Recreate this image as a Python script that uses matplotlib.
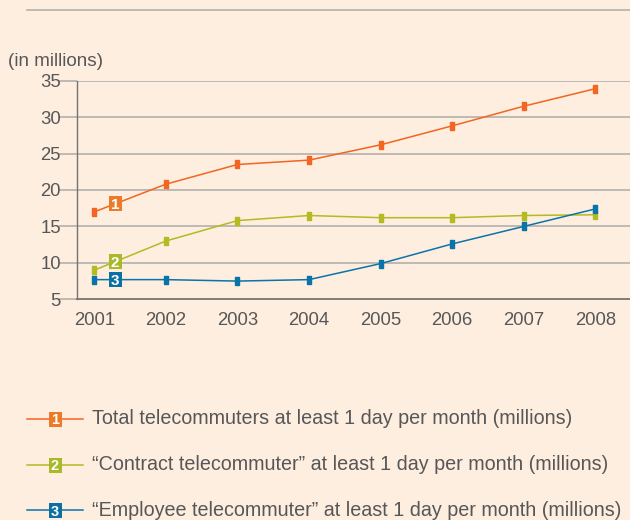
import matplotlib
matplotlib.use("Agg")
import matplotlib.pyplot as plt
from matplotlib.lines import Line2D
from matplotlib.patches import Rectangle

years = [2001, 2002, 2003, 2004, 2005, 2006, 2007, 2008]
total = [17.0, 20.8, 23.5, 24.1, 26.2, 28.8, 31.5, 33.9]
contract = [9.0, 13.0, 15.8, 16.5, 16.2, 16.2, 16.5, 16.6]
employee = [7.7, 7.7, 7.5, 7.7, 9.9, 12.6, 15.0, 17.4]
labels = ["Total telecommuters at least 1 day per month (millions)",
          "\u201cContract telecommuter\u201d at least 1 day per month (millions)",
          "\u201cEmployee telecommuter\u201d at least 1 day per month (millions)"]
yticks = [5, 10, 15, 20, 25, 30, 35]

BG = "#FDEEE0"
TXT = "#575757"
GRID = "#B4B0AC"
AX = "#77726E"
line_cols = ["#F26522", "#B2BB22", "#0A74A8"]
box_cols = ["#EC7A28", "#A9B92A", "#0A6FA3"]

plt.rcParams['font.family'] = ['Liberation Sans', 'DejaVu Sans']
FS = 13.3
W, H = 630, 520

fig = plt.figure(figsize=(6.3, 5.2), dpi=100, facecolor=BG)
ax = fig.add_axes([77/W, 1-299.3/H, 1-77/W, (299.3-80.7)/H])
ax.set_facecolor(BG)

marker = [(-2, -3.5), (2, -3.5), (2, 3.5), (-2, 3.5), (-2, -3.5)]
series = [total, contract, employee]
for s, c in zip(series, line_cols):
    ax.plot(years, s, color=c, lw=1.1, marker=marker, ms=6, mfc=c, mec=c, zorder=3)

def numbox(xpix, ypix, n, col, fs):
    bw, bh = 13, 15
    fig.add_artist(Rectangle(((xpix-bw/2)/W, 1-(ypix+bh/2)/H), bw/W, bh/H,
                             transform=fig.transFigure, fc=col, ec="none", zorder=5))
    fig.text(xpix/W, 1-ypix/H, str(n), color="white", fontsize=fs, fontweight="bold",
             ha="center", va="center_baseline", zorder=6)

ax.set_xlim(2000.758, 2008.485)
ax.set_ylim(5, 35)
ax.set_yticks(yticks)
ax.set_xticks(years)
ax.set_xticklabels([str(y) for y in years])
for y in yticks[1:]:
    ax.axhline(y, color=GRID, lw=1.2, zorder=1)
ax.spines['top'].set_visible(False)
ax.spines['right'].set_visible(False)
ax.spines['left'].set_color(AX)
ax.spines['bottom'].set_color(AX)
ax.spines['left'].set_linewidth(1.0)
ax.spines['bottom'].set_linewidth(1.3)
ax.tick_params(axis='y', length=13, color=GRID, width=1.2, pad=-1.5, labelsize=FS, labelcolor=TXT)
ax.tick_params(axis='x', length=0, pad=9, labelsize=FS, labelcolor=TXT)

# numbered boxes on lines (placed along the first segment of each line)
fig.canvas.draw()
for i, (s, bc) in enumerate(zip(series, box_cols)):
    xb = 2001.29
    yb = s[0] + (s[1]-s[0])*0.29
    px, py = ax.transData.transform((xb, yb))
    numbox(px, H-py, i+1, bc, 11)

fig.text(8/W, 1-62/H, "(in millions)", color=TXT, fontsize=FS+0.3, ha="left", va="center")

# top rule
fig.add_artist(Line2D([27/W, 1], [1-10/H, 1-10/H], color=GRID, lw=1.2))

# legend
rows = [419, 465, 510]
for i, (yr, lc, bc, lab) in enumerate(zip(rows, line_cols, box_cols, labels)):
    yf = 1 - yr/H
    fig.add_artist(Line2D([27/W, 83/W], [yf, yf], color=lc, lw=1.1))
    numbox(55, yr, i+1, bc, 10.5)
    fig.text(92/W, yf, lab, color=TXT, fontsize=14.2, ha="left", va="center")

fig.savefig("out.png", dpi=100, facecolor=BG)
